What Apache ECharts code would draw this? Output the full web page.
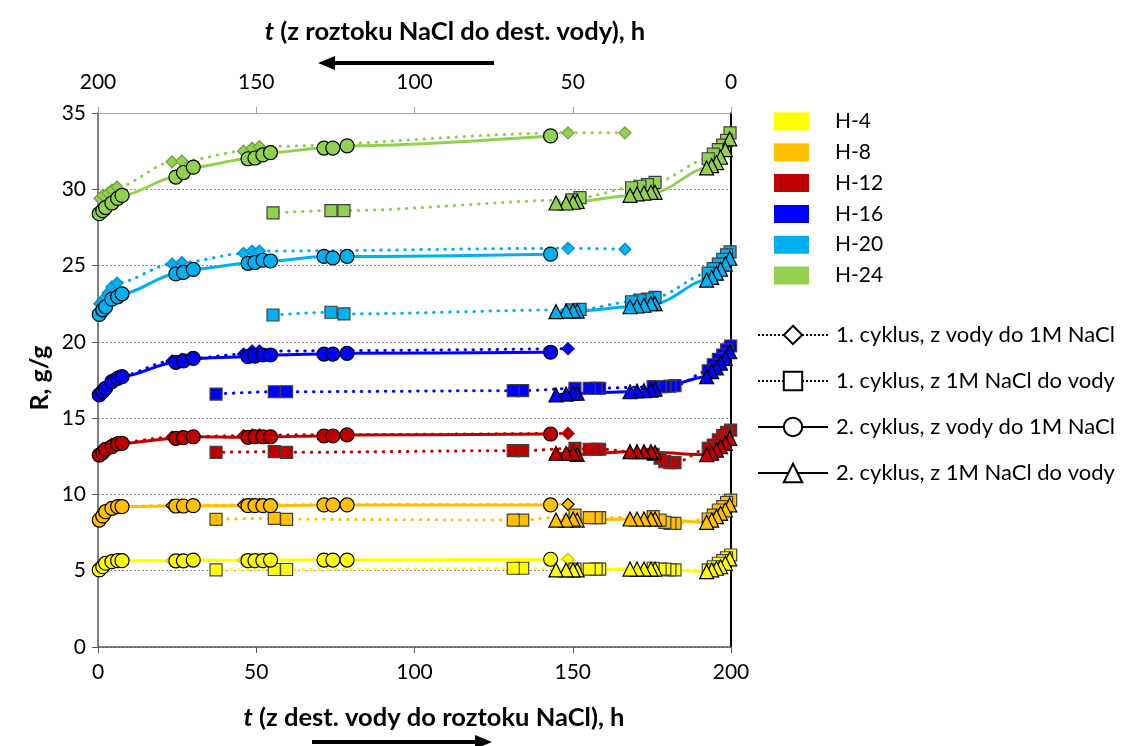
<!DOCTYPE html>
<html>
<head>
<meta charset="utf-8">
<script src="https://cdn.jsdelivr.net/npm/echarts@6/dist/echarts.min.js"></script>
<style>
html, body { margin: 0; padding: 0; background: #fff; }
#main { width: 1125px; height: 746px; }
</style>
</head>
<body>
<div id="main"></div>
<script>
var gels = ['H-4', 'H-8', 'H-12', 'H-16', 'H-20', 'H-24'];
var cycles = ['1. cyklus, z vody do 1M NaCl', '1. cyklus, z 1M NaCl do vody',
              '2. cyklus, z vody do 1M NaCl', '2. cyklus, z 1M NaCl do vody'];

// time, h — cycles "z vody do 1M NaCl" use the bottom axis
var tDiamond = [0.6, 1.6, 3.2, 4.4, 6.0, 23.4, 26.5, 46, 48.7, 51, 148.5, 166.5];
var tCircle = [0.4, 1.5, 2.4, 4.4, 6.2, 7.6, 24.6, 27, 30.1, 47.4, 49.6, 52.1, 54.5, 71.4, 74.2, 78.7, 143];
// time, h — cycles "z 1M NaCl do vody" use the top (reversed) axis
var tSquare = [0.1, 1.4, 2.6, 4.0, 5.6, 7.2, 17.7, 19.3, 20.9, 22.4, 24.6, 41.5, 42.6, 44.8, 49.3, 65.8, 68.8, 140.4, 144.3, 162.7];
var tSquareHi = [0.3, 1.4, 2.6, 4.0, 5.6, 7.2, 24.0, 26.4, 28.8, 31.4, 47.7, 50.3, 122.3, 126.4, 144.7];
var tTriangle = [0.4, 1.8, 3.3, 4.6, 6.1, 7.7, 24.0, 25.3, 27.5, 29.7, 31.9, 48.6, 49.9, 52.1, 55.3];

// R, g/g
var diamondH4 = [5.1, 5.3, 5.5, 5.6, 5.65, 5.66, 5.68, 5.7, 5.7, 5.7, 5.75];
var diamondH8 = [8.4, 8.7, 8.95, 9.1, 9.2, 9.28, 9.3, 9.32, 9.33, 9.33, 9.35];
var diamondH12 = [12.7, 12.9, 13.1, 13.3, 13.4, 13.75, 13.8, 13.85, 13.9, 13.9, 14.0];
var diamondH16 = [16.6, 16.9, 17.2, 17.5, 17.7, 18.75, 18.85, 19.2, 19.4, 19.4, 19.55];
var diamondH20 = [22.5, 22.75, 23.2, 23.6, 23.85, 25.1, 25.2, 25.8, 25.95, 25.95, 26.13, 26.07];
var diamondH24 = [29.4, 29.6, 29.75, 29.95, 30.15, 31.8, 31.85, 32.5, 32.7, 32.8, 33.7, 33.7];

var squareH4 = [6.03, 5.85, 5.66, 5.49, 5.26, 5.05, 5.05, 5.05, 5.11, 5.11, 5.16, 5.11, 5.11, 5.11, 5.11, 5.16, 5.16, 5.08, 5.08, 5.05];
var squareH8 = [9.63, 9.48, 9.2, 8.98, 8.65, 8.39, 8.1, 8.1, 8.17, 8.32, 8.54, 8.48, 8.48, 8.48, 8.65, 8.32, 8.32, 8.37, 8.43, 8.37];
var squareH12 = [14.22, 14.07, 13.85, 13.57, 13.24, 13.02, 12.08, 12.08, 12.15, 12.37, 12.63, 12.96, 12.96, 12.96, 13.02, 12.87, 12.87, 12.76, 12.8, 12.76];
var squareH16 = [19.73, 19.47, 19.14, 18.86, 18.5, 18.1, 17.13, 17.1, 17.06, 17.06, 17.06, 16.96, 16.96, 16.96, 16.96, 16.8, 16.8, 16.73, 16.73, 16.58];
var squareH20 = [25.9, 25.7, 25.4, 25.1, 24.8, 24.5, 22.92, 22.8, 22.74, 22.63, 22.13, 22.1, 21.83, 21.94, 21.76];
var squareH24 = [33.7, 33.2, 32.9, 32.6, 32.3, 32.0, 30.45, 30.3, 30.2, 30.1, 29.45, 29.3, 28.6, 28.6, 28.45];

var circleH4 = [5.05, 5.26, 5.49, 5.59, 5.66, 5.66, 5.65, 5.65, 5.7, 5.66, 5.66, 5.66, 5.7, 5.7, 5.7, 5.7, 5.75];
var circleH8 = [8.32, 8.59, 8.87, 9.09, 9.2, 9.2, 9.24, 9.24, 9.26, 9.26, 9.26, 9.26, 9.26, 9.31, 9.31, 9.31, 9.31];
var circleH12 = [12.58, 12.74, 12.96, 13.13, 13.31, 13.35, 13.68, 13.72, 13.78, 13.74, 13.78, 13.78, 13.78, 13.83, 13.83, 13.9, 13.96];
var circleH16 = [16.52, 16.75, 16.96, 17.39, 17.61, 17.72, 18.66, 18.75, 18.92, 19.03, 19.07, 19.14, 19.14, 19.2, 19.2, 19.25, 19.32];
var circleH20 = [21.8, 22.1, 22.3, 22.8, 22.95, 23.15, 24.45, 24.55, 24.75, 25.15, 25.2, 25.35, 25.3, 25.6, 25.5, 25.6, 25.75];
var circleH24 = [28.4, 28.6, 28.8, 29.1, 29.4, 29.6, 30.8, 31.1, 31.45, 32.0, 32.05, 32.25, 32.4, 32.7, 32.7, 32.85, 33.5];

var triangleH4 = [5.77, 5.49, 5.26, 5.16, 5.05, 4.94, 5.11, 5.11, 5.11, 5.11, 5.11, 5.05, 5.05, 5.05, 5.05];
var triangleH8 = [9.31, 8.98, 8.76, 8.54, 8.32, 8.17, 8.39, 8.39, 8.39, 8.39, 8.39, 8.32, 8.39, 8.32, 8.32];
var triangleH12 = [13.68, 13.35, 13.13, 12.91, 12.7, 12.6, 12.74, 12.8, 12.8, 12.8, 12.8, 12.63, 12.7, 12.7, 12.7];
var triangleH16 = [19.35, 18.92, 18.6, 18.3, 18.05, 17.72, 16.9, 16.84, 16.8, 16.78, 16.73, 16.63, 16.63, 16.58, 16.52];
var triangleH20 = [25.48, 25.1, 24.76, 24.5, 24.23, 24.05, 22.5, 22.5, 22.4, 22.35, 22.3, 22.02, 22.04, 22.02, 21.98];
var triangleH24 = [33.3, 32.6, 32.1, 31.75, 31.55, 31.4, 29.8, 29.8, 29.75, 29.7, 29.6, 29.2, 29.15, 29.1, 29.1];

var diamondR = [diamondH4, diamondH8, diamondH12, diamondH16, diamondH20, diamondH24];
var squareR = [squareH4, squareH8, squareH12, squareH16, squareH20, squareH24];
var circleR = [circleH4, circleH8, circleH12, circleH16, circleH20, circleH24];
var triangleR = [triangleH4, triangleH8, triangleH12, triangleH16, triangleH20, triangleH24];

var colors = ['#FFFF00', '#FFC000', '#C00000', '#0000FF', '#00B0F0', '#92D050'];
var diamondEdge = ['#C8C800', '#000000', '#900000', '#0000B0', '#0090C8', '#6E9E3C'];
var FONT = 'Lato';

function pairs(ts, rs) {
    return rs.map(function (r, i) { return [ts[i], r]; });
}

function mk(gi, ts, rs, kind) {
    var dotted = kind === 'diamond' || kind === 'rect';
    var size = { diamond: 12, rect: 12, circle: 14, triangle: 14 }[kind];
    var edge = kind === 'diamond' ? diamondEdge[gi] : (kind === 'rect' ? '#404040' : '#000');
    return {
        name: gels[gi],
        type: 'line',
        xAxisIndex: (kind === 'rect' || kind === 'triangle') ? 1 : 0,
        data: pairs(ts, rs),
        smooth: 0.3,
        smoothMonotone: 'x',
        symbol: kind,
        symbolSize: size,
        showSymbol: true,
        showAllSymbol: true,
        lineStyle: dotted
            ? { color: colors[gi], width: 3, type: [0.5, 7.5], cap: 'round' }
            : { color: colors[gi], width: 3 },
        itemStyle: { color: colors[gi], borderColor: edge, borderWidth: 1.2 },
        emphasis: { disabled: true },
        animation: false
    };
}

var series = [];
for (var g = 0; g < 6; g++) {
    series.push(mk(g, tDiamond, diamondR[g], 'diamond'));
    series.push(mk(g, g >= 4 ? tSquareHi : tSquare, squareR[g], 'rect'));
    series.push(mk(g, tCircle, circleR[g], 'circle'));
    series.push(mk(g, tTriangle, triangleR[g], 'triangle'));
}
// legend-only series for the cycle styles
var legendSymbols = ['diamond', 'rect', 'circle', 'triangle'];
cycles.forEach(function (c, i) {
    series.push({
        name: c, type: 'line', data: [],
        symbol: legendSymbols[i],
        lineStyle: i < 2 ? { color: '#000', width: 2, type: [2, 2] } : { color: '#000', width: 3 },
        itemStyle: { color: '#fff', borderColor: '#000', borderWidth: 1.5 }
    });
});

var titleRich = { i: { fontStyle: 'italic', fontWeight: 'bold', fontSize: 25.5, fontFamily: FONT } };

var chart = echarts.init(document.getElementById('main'));
chart.setOption({
    animation: false,
    textStyle: { fontFamily: FONT },
    grid: { left: 98, right: 394, top: 113, bottom: 99 },
    xAxis: [{
        type: 'value', position: 'bottom', min: 0, max: 200, interval: 50,
        axisLine: { show: true, onZero: false, lineStyle: { color: '#595959', width: 1.5 } },
        axisTick: { show: true, length: 6, lineStyle: { color: '#595959' } },
        axisLabel: { fontSize: 21, color: '#000', margin: 15, fontFamily: FONT },
        splitLine: { show: false }
    }, {
        type: 'value', position: 'top', inverse: true, min: 0, max: 200, interval: 50,
        axisLine: { show: true, onZero: false, lineStyle: { color: '#a6a6a6', width: 1 } },
        axisTick: { show: true, length: 6, lineStyle: { color: '#a6a6a6' } },
        axisLabel: { fontSize: 21, color: '#000', margin: 20, fontFamily: FONT },
        splitLine: { show: false }
    }],
    yAxis: [{
        type: 'value', min: 0, max: 35, interval: 5,
        axisLine: { show: true, lineStyle: { color: '#595959', width: 1.5 } },
        axisTick: { show: true, length: 6, lineStyle: { color: '#595959' } },
        axisLabel: { fontSize: 21, color: '#000', margin: 12, fontFamily: FONT },
        splitLine: { show: true, lineStyle: { color: '#8c8c8c', width: 1, type: [2, 2] } }
    }, {
        type: 'value', position: 'right', min: 0, max: 35, interval: 5,
        axisLine: { show: true, lineStyle: { color: '#000', width: 2 } },
        axisTick: { show: false }, axisLabel: { show: false }, splitLine: { show: false }
    }],
    legend: [{
        orient: 'vertical', left: 774, top: 111, padding: 0,
        icon: 'rect', itemWidth: 35, itemHeight: 18, itemGap: 9.8,
        data: gels, selectedMode: false,
        itemStyle: { borderWidth: 0 },
        textStyle: { fontSize: 21, lineHeight: 18, color: '#000', fontFamily: FONT, padding: [0, 0, 0, 21] }
    }, {
        orient: 'vertical', left: 757, top: 323.5, padding: 0,
        itemWidth: 70, itemHeight: 23, itemGap: 23,
        data: cycles, selectedMode: false,
        textStyle: { fontSize: 22, lineHeight: 23, color: '#000', fontFamily: FONT, padding: [0, 0, 0, 3] }
    }],
    graphic: [
        { type: 'text', x: 455, y: 32, style: {
            text: '{i|t} (z roztoku NaCl do dest. vody), h', align: 'center', verticalAlign: 'middle',
            font: 'bold 25.5px ' + FONT, fill: '#000', rich: titleRich } },
        { type: 'text', x: 434, y: 718, style: {
            text: '{i|t} (z dest. vody do roztoku NaCl), h', align: 'center', verticalAlign: 'middle',
            font: 'bold 25.5px ' + FONT, fill: '#000', rich: titleRich } },
        { type: 'text', x: 40, y: 378, rotation: Math.PI / 2, style: {
            text: 'R, g/g', align: 'center', verticalAlign: 'middle',
            font: 'bold 25px ' + FONT, fill: '#000' } },
        { type: 'line', shape: { x1: 332, y1: 63, x2: 494, y2: 63 }, style: { stroke: '#000', lineWidth: 4 } },
        { type: 'polygon', shape: { points: [[318, 63], [335, 56], [335, 70]] }, style: { fill: '#000' } },
        { type: 'line', shape: { x1: 312, y1: 742, x2: 478, y2: 742 }, style: { stroke: '#000', lineWidth: 4 } },
        { type: 'polygon', shape: { points: [[492, 742], [475, 735], [475, 749]] }, style: { fill: '#000' } }
    ],
    series: series
});
</script>
</body>
</html>
